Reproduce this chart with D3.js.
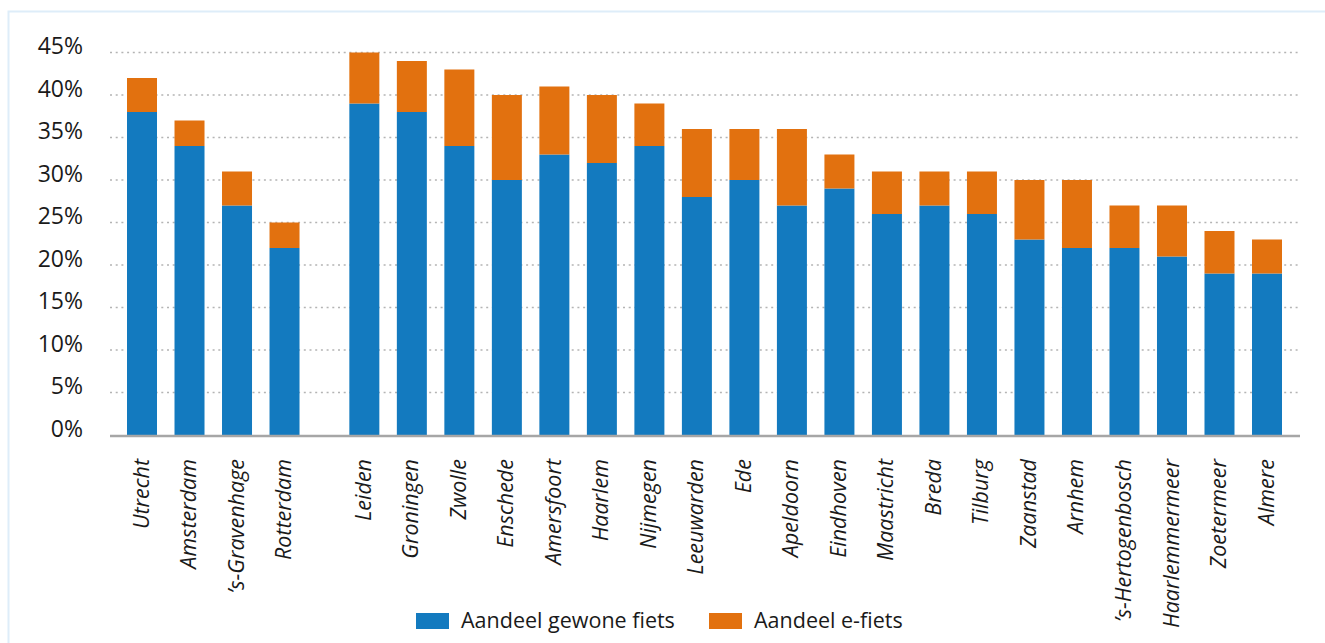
<!DOCTYPE html>
<html><head><meta charset="utf-8">
<script src="https://cdn.jsdelivr.net/npm/d3@7"></script>
<style>html,body{margin:0;padding:0;background:#fff;overflow:hidden}</style>
</head><body>
<svg id="chart" width="1325" height="643"></svg>
<script>
const cities = ["Utrecht","Amsterdam","’s-Gravenhage","Rotterdam","Leiden","Groningen","Zwolle","Enschede","Amersfoort","Haarlem","Nijmegen","Leeuwarden","Ede","Apeldoorn","Eindhoven","Maastricht","Breda","Tilburg","Zaanstad","Arnhem","’s-Hertogenbosch","Haarlemmermeer","Zoetermeer","Almere"];
const gewone = [38,34,27,22,39,38,34,30,33,32,34,28,30,27,29,26,27,26,23,22,22,21,19,19];
const efiets = [4,3,4,3,6,6,9,10,8,8,5,8,6,9,4,5,4,5,7,8,5,6,5,4];
const yTicks = [0,5,10,15,20,25,30,35,40,45];
const seriesNames = ["Aandeel gewone fiets","Aandeel e-fiets"];
const colors = ["#137abf","#e2710f"];

const svg = d3.select("#chart");
const font = "'Open Sans', sans-serif";

// frame
svg.append("rect").attr("x",8.5).attr("y",11.5).attr("width",1330).attr("height",650)
  .attr("fill","none").attr("stroke","#deedf9").attr("stroke-width",2);

const plotL = 110, plotR = 1300, y0 = 435;
const y = d3.scaleLinear().domain([0,45]).range([y0,52.5]);
const slot = i => i < 4 ? i : i + 0.68;
const x = d3.scaleLinear().domain([0, slot(23)]).range([142, 1267]);
const bw = 30;

// gridlines
svg.append("g").selectAll("line").data(yTicks.filter(d=>d>0)).join("line")
  .attr("x1",plotL).attr("x2",plotR).attr("y1",d=>y(d)).attr("y2",d=>y(d))
  .attr("stroke","#b4b4b4").attr("stroke-width",1.5).attr("stroke-dasharray","2,3.7");

// y labels
svg.append("g").selectAll("text").data(yTicks).join("text")
  .attr("x",83).attr("y",d=>y(d)).attr("dy","0.08em")
  .attr("text-anchor","end").attr("font-family",font).attr("font-size",23)
  .attr("fill","#1a1a1a").text(d=>d+"%");

// bars
const stack = cities.map((c,i)=>({c,i,g:gewone[i],e:efiets[i]}));
const bars = svg.append("g");
bars.selectAll("rect.g").data(stack).join("rect").attr("class","g")
  .attr("x",d=>x(slot(d.i))-bw/2).attr("width",bw)
  .attr("y",d=>y(d.g)).attr("height",d=>y(0)-y(d.g)).attr("fill",colors[0]);
bars.selectAll("rect.e").data(stack).join("rect").attr("class","e")
  .attr("x",d=>x(slot(d.i))-bw/2).attr("width",bw)
  .attr("y",d=>y(d.g+d.e)).attr("height",d=>y(d.g)-y(d.g+d.e)).attr("fill",colors[1]);

// axis line
svg.append("line").attr("x1",plotL).attr("x2",plotR).attr("y1",y0+1).attr("y2",y0+1)
  .attr("stroke","#a6a6a6").attr("stroke-width",2.5);

// x labels
svg.append("g").selectAll("text").data(stack).join("text")
  .attr("transform",d=>`translate(${x(slot(d.i))-1},459) rotate(-90)`)
  .attr("text-anchor","end").attr("dy","0.35em")
  .attr("font-family",font).attr("font-style","italic").attr("font-size",21.5)
  .attr("fill","#1a1a1a").text(d=>d.c);

// legend
const leg = svg.append("g");
const legX = [416, 709];
seriesNames.forEach((n,i)=>{
  leg.append("rect").attr("x",legX[i]).attr("y",613).attr("width",33).attr("height",16).attr("fill",colors[i]);
  leg.append("text").attr("x",legX[i]+45).attr("y",628).attr("font-family",font).attr("font-size",21.5)
    .attr("fill","#1a1a1a").text(n);
});
</script>
</body></html>
